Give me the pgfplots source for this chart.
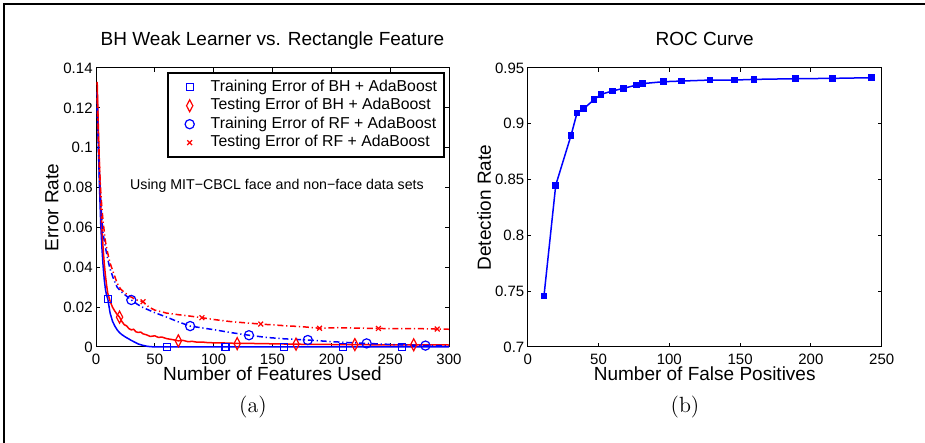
\documentclass[border=0pt]{standalone}
\usepackage{fontspec}
\usepackage{pgfplots}
\pgfplotsset{compat=1.18}
\newfontfamily\hv{Liberation Sans}
\definecolor{mblue}{rgb}{0,0,1}
\definecolor{mred}{rgb}{1,0,0}
\pgfplotsset{
  mstyle/.style={
    scale only axis, width=176.5pt, height=139.5pt,
    axis line style={line width=0.5pt, black},
    every tick/.style={line width=0.5pt, black},
    major tick length=1.8pt, tick align=inside,
    tick label style={font=\hv\fontsize{7.5}{9}\selectfont},
    /pgf/number format/assume math mode=true,
    /pgf/number format/fixed,
    scaled y ticks=false, scaled x ticks=false,
    yticklabel style={inner xsep=1.5pt},
    title style={at={(axis description cs:0.5,1.036)}, anchor=base, font=\hv\fontsize{9.5}{11}\selectfont},
    label style={font=\hv\fontsize{9.5}{11}\selectfont},
    clip=false,
  },
  dd/.style={dash pattern=on 3pt off 1.4pt on 0.6pt off 1.4pt},
  mleg/.style={legend image code/.code={\path[draw=none] (0pt,0pt) (18pt,0pt);\draw[##1] plot coordinates {(9.5pt,0pt)};}},
}
\begin{document}
\begin{tikzpicture}[x=1pt,y=1pt]
\useasboundingbox (0,0) rectangle (462.5,221.5);
\draw[line width=1pt] (2,0) -- (2,219.5) -- (462.5,219.5);

\begin{axis}[mstyle, at={(48pt,48pt)}, anchor=south west,
  xmin=0, xmax=300, ymin=0, ymax=0.14,
  xtick={0,50,100,150,200,250,300},
  ytick={0,0.02,0.04,0.06,0.08,0.1,0.12,0.14},
  title={BH Weak Learner vs. Rectangle Feature},
  xlabel={Number of Features Used},
  ylabel={Error Rate},
  xlabel style={at={(axis description cs:0.5,-0.12)}, anchor=base},
  ylabel style={at={(axis description cs:-0.125,0.5)}, anchor=center},
  legend style={at={(axis description cs:0.9887,0.985)}, anchor=north east,
    draw=black, line width=0.9pt, font=\hv\fontsize{7.9}{9}\selectfont,
    inner sep=1.5pt, row sep=-2pt},
  legend cell align=left,
]
% lines
\addplot[mblue, line width=0.75pt, forget plot] coordinates {
(1,0.128) (2,0.10) (3,0.08) (4,0.062) (5,0.05) (6,0.041) (7,0.034) (8,0.029) (9,0.026) (10,0.0242)
(12,0.017) (14,0.013) (16,0.0105) (18,0.0086) (20,0.0072) (22,0.0062) (25,0.005) (28,0.004) (30,0.0033)
(33,0.0024) (36,0.0015) (40,0.0008) (44,0.0003) (48,0.0001) (52,0) (300,0)};
\addplot[mred, line width=0.75pt, forget plot] coordinates {
(1,0.133) (2,0.11) (3,0.09) (4,0.072) (5,0.06) (6,0.05) (7,0.042) (8,0.036) (9,0.031) (10,0.027)
(12,0.023) (14,0.02) (16,0.018) (18,0.0163) (20,0.015) (22,0.0128) (24,0.0112) (26,0.0106) (28,0.0092)
(30,0.0086) (32,0.0089) (34,0.0076) (36,0.0073) (38,0.0075) (40,0.0066) (43,0.0061) (46,0.0053)
(50,0.0056) (53,0.0048) (56,0.005) (60,0.0042) (63,0.0039) (66,0.0036) (70,0.0031) (74,0.0033)
(78,0.0027) (82,0.0028) (86,0.0024) (90,0.0025) (95,0.0022) (100,0.0021) (110,0.002) (120,0.0018)
(130,0.0018) (140,0.0017) (150,0.0016) (170,0.0014) (190,0.0013) (210,0.0012) (240,0.0011)
(270,0.0011) (300,0.001)};
\addplot[mblue, line width=0.75pt, dd, forget plot] coordinates {
(1,0.12) (2,0.1) (3,0.085) (4,0.072) (5,0.064) (6,0.057) (8,0.05) (10,0.044) (12,0.039) (15,0.034)
(18,0.030) (21,0.028) (25,0.026) (30,0.0236) (35,0.0215) (40,0.0198) (45,0.0185) (50,0.0172)
(60,0.015) (70,0.0126) (80,0.0105) (90,0.0096) (100,0.0087) (115,0.0072) (130,0.0059) (145,0.0048)
(160,0.0041) (180,0.0035) (200,0.0027) (215,0.0022) (230,0.0018) (250,0.0013) (265,0.001)
(280,0.0007) (300,0.0006)};
\addplot[mred, line width=0.75pt, dd, forget plot] coordinates {
(1,0.125) (2,0.105) (3,0.09) (4,0.078) (5,0.07) (6,0.063) (8,0.053) (10,0.047) (12,0.042) (15,0.037)
(18,0.032) (21,0.029) (25,0.027) (30,0.025) (35,0.0235) (40,0.0227) (45,0.020) (50,0.0185)
(60,0.017) (70,0.0162) (80,0.0155) (90,0.0147) (100,0.0138) (115,0.0127) (140,0.0115) (160,0.0107)
(175,0.0102) (190,0.0094) (205,0.0097) (220,0.0095) (240,0.0093) (260,0.0092) (275,0.0092)
(290,0.009) (300,0.0089)};
% markers
\addplot[mblue, only marks, mark=square, mark size=1.75pt, line width=0.6pt, mleg] coordinates {
(10,0.0242) (60,0) (110,0) (160,0) (210,0) (260,0)};
\addlegendentry{Training Error of BH + AdaBoost}
\addplot[mred, only marks, mark=diamond, mark size=3pt, mark options={xscale=0.7}, line width=0.6pt, mleg] coordinates {
(20,0.015) (70,0.0031) (120,0.0017) (170,0.0014) (220,0.0012) (270,0.0011)};
\addlegendentry{Testing Error of BH + AdaBoost}
\addplot[mblue, only marks, mark=o, mark size=2.3pt, line width=0.6pt, mleg] coordinates {
(30,0.0236) (80,0.0105) (130,0.0059) (180,0.0035) (230,0.0018) (280,0.0007)};
\addlegendentry{Training Error of RF + AdaBoost}
\addplot[mred, only marks, mark=x, mark size=1.7pt, line width=0.6pt, mleg] coordinates {
(40,0.0227) (90,0.0147) (140,0.0115) (190,0.0094) (240,0.0093) (290,0.009)};
\addlegendentry{Testing Error of RF + AdaBoost}
\node[font=\hv\fontsize{7.1}{8}\selectfont] at (axis cs:153.8,0.0808) {Using MIT−CBCL face and non−face data sets};
\end{axis}

\begin{axis}[mstyle, at={(263.85pt,48pt)}, anchor=south west, width=177pt,
  xmin=0, xmax=250, ymin=0.7, ymax=0.95,
  xtick={0,50,100,150,200,250},
  ytick={0.7,0.75,0.8,0.85,0.9,0.95},
  title={ROC Curve},
  xlabel={Number of False Positives},
  ylabel={Detection Rate},
  xlabel style={at={(axis description cs:0.5,-0.12)}, anchor=base},
  ylabel style={at={(axis description cs:-0.1234,0.5)}, anchor=center},
]
\addplot[mblue, line width=0.75pt, mark=square*, mark size=1.3pt] coordinates {
(11.5,0.7458) (19.8,0.845) (30.6,0.8896) (34.8,0.9096) (39.5,0.9135) (46.8,0.9216) (51.8,0.9264)
(59.8,0.9294) (67.8,0.9318) (77,0.9348) (81,0.936) (95.8,0.9377) (108.8,0.9383) (128.8,0.9392)
(146,0.9392) (159.8,0.9398) (189,0.9404) (215,0.9407) (243,0.9413)};
\end{axis}

\node[anchor=base, font=\fontsize{11}{13}\selectfont] at (126.5,15) {(a)};
\node[anchor=base, font=\fontsize{11}{13}\selectfont] at (342.5,15) {(b)};
\end{tikzpicture}
\end{document}
